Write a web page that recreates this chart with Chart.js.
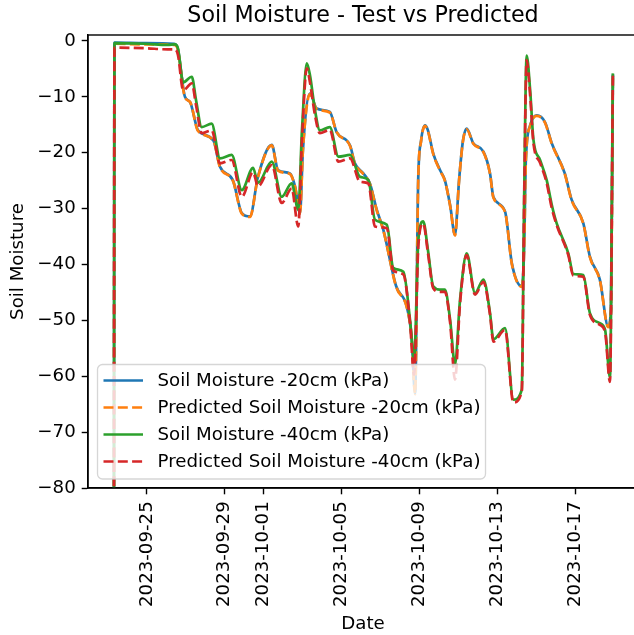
<!DOCTYPE html>
<html>
<head>
<meta charset="utf-8">
<script src="https://cdn.jsdelivr.net/npm/chart.js@4.4.1/dist/chart.umd.min.js"></script>
<style>
  html, body { margin: 0; padding: 0; background: #fff; overflow: hidden; }
  #wrap { width: 640px; height: 635px; }
</style>
</head>
<body>
<div id="wrap"><canvas id="chart" width="640" height="635"></canvas></div>
<script>
// days counted from 2023-09-25
const baseDate = '2023-09-25';
const tickLabels = ['2023-09-25', '2023-09-29', '2023-10-01', '2023-10-05', '2023-10-09', '2023-10-13', '2023-10-17'];
const yTicks = [-80, -70, -60, -50, -40, -30, -20, -10, 0];

// -20cm sensor (measured and predicted)
const t20 = [-1.69, -1.66, -0.09, 1.41, 1.60, 1.96, 2.22, 2.63, 3.42, 3.76, 4.42, 4.88, 5.30, 5.71, 6.42, 6.74, 7.35, 7.62, 7.87, 8.02,
  8.38, 8.73, 9.40, 9.75, 10.44, 10.69, 11.12, 11.46, 11.81, 12.15, 12.81, 13.35, 13.60, 13.78, 13.94, 14.09, 14.29, 14.44, 14.71, 15.06,
  15.31, 15.58, 15.83, 16.04, 16.24, 16.43, 16.77, 17.29, 17.63, 17.80, 18.40, 18.75, 19.26, 19.38, 19.47, 19.69, 20.02, 20.45, 20.80, 21.47,
  21.82, 22.42, 22.76, 23.27, 23.70, 23.84, 23.94];
const sm20 = [-95, -0.3, -0.4, -0.5, -1.5, -10.0, -10.9, -16.0, -17.8, -22.5, -24.9, -30.8, -31.4, -24.3, -18.6, -23.1, -23.7, -26.1, -30.8, -19.5,
  -9.4, -12.1, -12.7, -16.3, -18.7, -21.9, -23.7, -25.5, -30.2, -33.8, -43.9, -47.5, -52.9, -63.0, -24.9, -17.8, -15.1, -16.0, -20.1, -23.1,
  -24.9, -29.4, -34.7, -24.9, -17.8, -15.7, -18.3, -19.8, -23.7, -27.9, -30.5, -39.8, -43.9, -37.4, -21.3, -15.1, -13.3, -14.5, -18.3, -23.7,
  -28.4, -32.6, -38.6, -42.7, -51.1, -48.0, -6.0];
const pred20 = [-95, -0.5, -0.6, -0.7, -1.6, -10.1, -10.9, -16.1, -17.8, -22.6, -25.0, -30.9, -31.5, -24.4, -18.7, -23.2, -23.8, -26.2, -30.9, -19.4,
  -9.5, -12.2, -12.8, -16.3, -18.8, -22.0, -23.8, -25.6, -30.3, -33.9, -44.0, -47.6, -53.0, -63.2, -25.0, -17.9, -15.2, -16.1, -20.2, -23.2,
  -25.0, -29.5, -34.8, -25.0, -17.9, -15.8, -18.4, -19.9, -23.8, -28.0, -30.6, -39.9, -44.0, -37.5, -21.4, -15.2, -13.4, -14.6, -18.4, -23.8,
  -28.5, -32.7, -38.7, -42.8, -51.2, -48.1, -6.1];

// -40cm sensor (measured and predicted)
const t40 = [-1.69, -1.66, -0.09, 1.07, 1.45, 1.60, 1.87, 2.31, 2.53, 2.82, 3.33, 3.76, 4.36, 4.88, 5.46, 5.71, 6.42, 6.93, 7.44, 7.78,
  7.97, 8.22, 8.38, 8.64, 8.89, 9.40, 9.84, 10.44, 10.95, 11.38, 11.72, 12.33, 12.66, 13.18, 13.52, 13.73, 13.95, 14.20, 14.44, 14.71,
  15.06, 15.31, 15.58, 15.83, 16.09, 16.43, 16.86, 17.29, 17.63, 17.80, 18.40, 18.83, 19.26, 19.38, 19.51, 19.69, 19.86, 20.20, 20.54, 20.80,
  21.05, 21.65, 21.91, 22.42, 22.76, 23.27, 23.54, 23.79, 23.94];
const sm40 = [-95, -0.4, -0.5, -0.7, -0.6, -1.3, -7.4, -6.4, -10.6, -15.4, -14.8, -21.0, -20.4, -26.7, -22.7, -25.4, -21.6, -27.9, -25.5, -30.2,
  -16.0, -4.0, -6.1, -12.4, -16.0, -15.4, -20.7, -20.4, -24.3, -24.9, -32.0, -32.9, -40.6, -41.3, -49.9, -57.0, -35.6, -32.3, -37.4, -43.9,
  -44.5, -44.5, -49.9, -57.9, -46.3, -38.0, -45.1, -42.7, -48.7, -53.4, -51.4, -64.2, -62.4, -28.5, -2.6, -8.8, -17.7, -21.3, -24.9, -29.3,
  -32.6, -38.0, -41.7, -41.9, -48.7, -50.5, -51.7, -60.2, -5.8];
const pred40 = [-95, -1.2, -1.3, -1.5, -1.5, -2.5, -8.8, -7.6, -11.5, -16.5, -16.0, -21.9, -21.3, -27.9, -23.5, -26.0, -22.2, -29.0, -26.4, -33.2,
  -17.7, -4.9, -7.4, -13.3, -16.5, -15.9, -21.6, -21.0, -25.2, -25.5, -33.2, -33.5, -41.1, -41.8, -50.4, -59.7, -36.5, -32.7, -37.9, -44.2,
  -44.9, -44.9, -50.4, -60.6, -46.9, -38.3, -45.4, -43.1, -49.0, -53.8, -51.7, -64.7, -62.7, -29.4, -3.4, -9.7, -18.3, -21.8, -25.4, -29.9,
  -32.9, -38.3, -42.0, -42.2, -49.0, -50.8, -52.1, -61.0, -5.8];

function dayOf(s) {
  return (Date.parse(s + 'T00:00:00Z') - Date.parse(baseDate + 'T00:00:00Z')) / 86400000;
}
const tickDays = tickLabels.map(dayOf);

function pts(t, v) {
  return t.map((x, i) => ({ x: x, y: v[i] }));
}
function minusSign(v) {
  return v < 0 ? '\u2212' + Math.abs(v) : String(v);
}

const dash = [10, 4.3];
const FONT = 'DejaVu Sans';
const FS = 18.2;

// frame, title and legend drawn the matplotlib way
const decorations = {
  id: 'decorations',
  afterDatasetsDraw(chart) {
    const ctx = chart.ctx;
    ctx.save();
    // legend box in lower left
    const bx = 97.5, by = 364.5, bw = 388, bh = 114.5;
    ctx.beginPath();
    ctx.roundRect(bx, by, bw, bh, 5);
    ctx.fillStyle = 'rgba(255,255,255,0.8)';
    ctx.fill();
    ctx.strokeStyle = 'rgba(204,204,204,0.8)';
    ctx.lineWidth = 1.3;
    ctx.stroke();
    ctx.font = FS + 'px "' + FONT + '"';
    ctx.textBaseline = 'middle';
    ctx.textAlign = 'left';
    chart.data.datasets.forEach((ds, i) => {
      const y = 380.5 + i * 27;
      ctx.beginPath();
      ctx.setLineDash(ds.borderDash || []);
      ctx.strokeStyle = ds.borderColor;
      ctx.lineWidth = 2.7;
      ctx.moveTo(103.5, y);
      ctx.lineTo(143, y);
      ctx.stroke();
      ctx.setLineDash([]);
      ctx.fillStyle = '#000';
      ctx.fillText(ds.label, 157.5, y + 1);
    });
    ctx.restore();
  },
  afterDraw(chart) {
    const ctx = chart.ctx;
    const a = chart.chartArea;
    ctx.save();
    ctx.strokeStyle = '#000';
    ctx.lineWidth = 1.4;
    ctx.strokeRect(a.left, a.top, a.right - a.left, a.bottom - a.top);
    ctx.fillStyle = '#000';
    ctx.font = '22.2px "' + FONT + '"';
    ctx.textAlign = 'center';
    ctx.textBaseline = 'middle';
    ctx.fillText('Soil Moisture - Test vs Predicted', (a.left + a.right) / 2, 16);
    ctx.restore();
  }
};

Chart.defaults.font.family = FONT;
Chart.defaults.color = '#000';

new Chart(document.getElementById('chart').getContext('2d'), {
  type: 'line',
  data: {
    datasets: [
      { label: 'Soil Moisture -20cm (kPa)', data: pts(t20, sm20), borderColor: '#1f77b4', order: 4 },
      { label: 'Predicted Soil Moisture -20cm (kPa)', data: pts(t20, pred20), borderColor: '#ff7f0e', borderDash: dash, order: 3 },
      { label: 'Soil Moisture -40cm (kPa)', data: pts(t40, sm40), borderColor: '#2ca02c', order: 2 },
      { label: 'Predicted Soil Moisture -40cm (kPa)', data: pts(t40, pred40), borderColor: '#d62728', borderDash: dash, order: 1 }
    ].map(ds => Object.assign({
      borderWidth: 2.7,
      pointRadius: 0,
      fill: false,
      cubicInterpolationMode: 'monotone',
      borderJoinStyle: 'round'
    }, ds))
  },
  options: {
    responsive: false,
    animation: false,
    devicePixelRatio: 1,
    layout: { padding: { top: 35, right: 2, left: 0, bottom: 0 } },
    plugins: {
      legend: { display: false },
      title: { display: false },
      tooltip: { enabled: false }
    },
    scales: {
      x: {
        type: 'linear',
        min: -3.02,
        max: 25.23,
        afterBuildTicks: (scale) => { scale.ticks = tickDays.map(v => ({ value: v })); },
        afterFit: (scale) => { scale.height = 147; },
        ticks: {
          autoSkip: false,
          minRotation: 90,
          maxRotation: 90,
          padding: 7,
          font: { size: FS },
          callback: (v, i) => tickLabels[i]
        },
        grid: { drawOnChartArea: false, drawTicks: true, tickLength: 6.3, tickColor: '#000', tickWidth: 1.4 },
        border: { display: true, color: '#000', width: 1.4 },
        title: { display: true, text: 'Date', font: { size: FS }, padding: { top: 0, bottom: 0 } }
      },
      y: {
        min: -80,
        max: 1.07,
        afterBuildTicks: (scale) => { scale.ticks = yTicks.map(v => ({ value: v })); },
        afterFit: (scale) => { scale.width = 88; },
        ticks: { padding: 6, font: { size: FS }, callback: (v) => minusSign(v) },
        grid: { drawOnChartArea: false, drawTicks: true, tickLength: 6.3, tickColor: '#000', tickWidth: 1.4 },
        border: { display: true, color: '#000', width: 1.4 },
        title: { display: true, text: 'Soil Moisture', font: { size: FS }, padding: { top: 7.4, bottom: 0 } }
      }
    }
  },
  plugins: [decorations]
});
</script>
</body>
</html>
